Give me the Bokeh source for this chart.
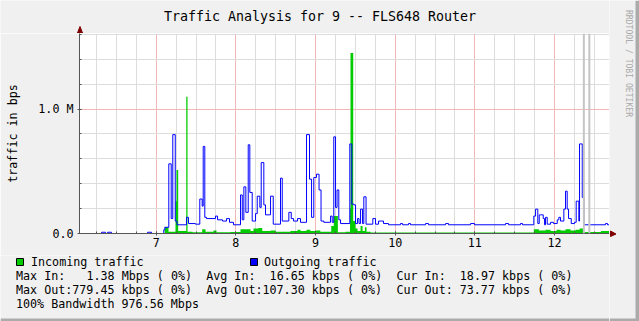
import math
import re
from bokeh.plotting import figure
from bokeh.models import Range1d, SingleIntervalTicker, Span
from bokeh.core.properties import value
from bokeh.layouts import row, column
from bokeh.embed import file_html
from bokeh.resources import INLINE

# ---------------- data (time in hours, traffic in Mbit/s) ----------------
out_t = [6.037, 6.313, 6.364, 6.389, 6.439, 6.891, 6.941, 7.095, 7.108, 7.158,
         7.188, 7.208, 7.239, 7.261, 7.380, 7.405, 7.493, 7.547, 7.577, 7.590,
         7.610, 7.631, 7.744, 7.770, 7.832, 7.883, 7.920, 7.970, 8.058, 8.080,
         8.100, 8.125, 8.155, 8.175, 8.205, 8.247, 8.268, 8.301, 8.318, 8.351,
         8.372, 8.435, 8.469, 8.560, 8.582, 8.665, 8.695, 8.724, 8.774, 8.811,
         8.887, 8.924, 8.950, 8.978, 9.012, 9.044, 9.069, 9.104, 9.188, 9.209,
         9.229, 9.251, 9.270, 9.292, 9.314, 9.430, 9.455, 9.481, 9.502, 9.527,
         9.546, 9.565, 9.590, 9.606, 9.634, 9.719, 9.753, 9.791, 9.853, 9.916,
         10.067, 10.092, 10.167, 10.192, 10.381, 10.418, 10.632, 10.669, 10.946, 10.996,
         11.385, 11.423, 11.573, 11.598, 11.740, 11.762, 11.790, 11.808, 11.824, 11.858,
         11.875, 11.887, 11.908, 11.950, 11.987, 12.034, 12.054, 12.075, 12.117, 12.138,
         12.159, 12.176, 12.210, 12.251, 12.272, 12.305, 12.314, 12.348, 12.368, 12.452,
         12.640, 12.665, 12.690]
out_v = [0.0, 0.01, 0.0, 0.01, 0.0, 0.01, 0.0, 0.03, 0.05, 0.56,
         0.12, 0.795, 0.10, 0.07, 0.13, 0.08, 0.075, 0.277, 0.22, 0.70,
         0.13, 0.12, 0.14, 0.11, 0.10, 0.12, 0.09, 0.07, 0.31, 0.11,
         0.375, 0.17, 0.713, 0.33, 0.10, 0.16, 0.30, 0.21, 0.57, 0.23,
         0.15, 0.30, 0.075, 0.445, 0.10, 0.17, 0.12, 0.10, 0.12, 0.09,
         0.795, 0.437, 0.13, 0.45, 0.477, 0.35, 0.10, 0.09, 0.14, 0.09,
         0.777, 0.21, 0.35, 0.11, 0.08, 0.72, 0.236, 0.23, 0.08, 0.12,
         0.08, 0.196, 0.08, 0.295, 0.075, 0.12, 0.075, 0.10, 0.08, 0.07,
         0.08, 0.07, 0.08, 0.07, 0.08, 0.07, 0.08, 0.07, 0.08, 0.07,
         0.08, 0.07, 0.08, 0.07, 0.14, 0.196, 0.08, 0.15, 0.15, 0.12,
         0.07, 0.13, 0.075, 0.09, 0.08, 0.11, 0.13, 0.10, 0.196, 0.34,
         0.196, 0.12, 0.08, 0.09, 0.26, 0.10, 0.72, 0.29, 0.07, 0.07,
         0.08, 0.07, 0.07]

in_t = [6.037, 7.107, 7.154, 7.242, 7.255, 7.276, 7.377, 7.393, 7.456, 7.577,
        7.619, 7.719, 7.757, 7.933, 8.058, 8.184, 8.221, 8.284, 8.331, 8.435,
        8.498, 8.686, 8.774, 8.811, 8.887, 8.935, 8.997, 9.060, 9.197, 9.229,
        9.280, 9.376, 9.433, 9.439, 9.473, 9.502, 9.527, 9.565, 9.590, 9.619,
        9.640, 9.690, 11.740, 11.803, 11.887, 11.950, 12.025, 12.075, 12.138, 12.201,
        12.264, 12.314, 12.357, 12.583, 12.690]
in_v = [0.0, 0.05, 0.015, 0.26, 0.51, 0.02, 1.10, 0.015, 0.01, 0.035,
        0.015, 0.025, 0.01, 0.012, 0.035, 0.02, 0.04, 0.045, 0.02, 0.025,
        0.015, 0.02, 0.03, 0.02, 0.03, 0.02, 0.025, 0.015, 0.06, 0.14,
        0.01, 0.015, 0.2, 1.45, 0.1, 0.04, 0.02, 0.06, 0.02, 0.05,
        0.015, 0.008, 0.035, 0.025, 0.03, 0.02, 0.03, 0.025, 0.035, 0.025,
        0.03, 0.04, 0.012, 0.02, 0.02]

vrule_times = [12.368, 12.437]
y_tick_labels = {0: "0.0", 1: "1.0 M"}

title_text = "Traffic Analysis for 9 -- FLS648 Router"
y_label_text = "traffic in bps"
watermark_text = "RRDTOOL / TOBI OETIKER"
legend_names = ["Incoming traffic", "Outgoing traffic"]
stat_lines = [
    "Max In:   1.38 Mbps ( 0%)  Avg In:  16.65 kbps ( 0%)  Cur In:  18.97 kbps ( 0%)",
    "Max Out:779.45 kbps ( 0%)  Avg Out:107.30 kbps ( 0%)  Cur Out: 73.77 kbps ( 0%)",
    "100% Bandwidth 976.56 Mbps",
]

IN_COLOR = "#00CC00"
OUT_COLOR = "#0000FF"
BACK = "#F0F0F0"
SHADE = "#ABABAB"
AXIS = "#555555"
ARROW = "#7F0000"
FONT = "DejaVu Sans Mono"
CHAR_W = 7.045          # advance of one monospace character at 11.7px

# ---------------- layout (pixels of the 639x321 image) ----------------
W, H = 639, 321
FL, FR, FT, FB = 79, 609, 33, 233      # plot area
MB = 255                                # bottom of the main figure
X0, X1 = 6.037, 12.690
Y0, Y1 = 0.0, 1.6077


def pixel_fig(x0, x1, y0, y1):
    """Figure whose frame fills it entirely; data units = image pixels."""
    f = figure(width=x1 - x0, height=y1 - y0, output_backend="svg", toolbar_location=None,
               x_range=Range1d(x0, x1), y_range=Range1d(y1, y0),
               x_axis_location=None, y_axis_location=None,
               min_border=0, min_border_left=0, min_border_right=0,
               min_border_top=0, min_border_bottom=0, frame_align=False)
    f.grid.visible = False
    f.outline_line_color = None
    f.background_fill_color = BACK
    f.border_fill_color = BACK
    return f


# ---- main chart ----
p = figure(width=FR, height=MB - FT, output_backend="svg", toolbar_location=None,
           x_range=Range1d(X0, X1), y_range=Range1d(Y0, Y1),
           min_border_left=FL, min_border_right=0, min_border_top=0,
           min_border_bottom=MB - FB, frame_align=False)
p.border_fill_color = BACK
p.background_fill_color = "#FFFFFF"
p.outline_line_color = None

p.xaxis.ticker = SingleIntervalTicker(interval=1, num_minor_ticks=4)
p.yaxis.ticker = SingleIntervalTicker(interval=1, num_minor_ticks=5)
p.yaxis.major_label_overrides = y_tick_labels
for ax in (p.xaxis[0], p.yaxis[0]):
    ax.axis_line_color = AXIS
    ax.major_tick_line_color = AXIS
    ax.minor_tick_line_color = AXIS
    ax.major_tick_in = 2
    ax.major_tick_out = 2
    ax.minor_tick_in = 2
    ax.minor_tick_out = 0
    ax.major_label_text_font = FONT
    ax.major_label_text_font_size = "11.7px"
    ax.major_label_text_color = "#000000"
p.xaxis.major_label_standoff = 2
p.yaxis.major_label_standoff = 4
p.yaxis.axis_label = y_label_text
p.yaxis.axis_label_text_font = FONT
p.yaxis.axis_label_text_font_size = "11.7px"
p.yaxis.axis_label_text_font_style = "normal"
p.yaxis.axis_label_text_color = "#000000"
p.yaxis.axis_label_standoff = 15

p.xgrid.grid_line_color = "#F2B6B6"
p.ygrid.grid_line_color = "#F2B6B6"
p.xgrid.minor_grid_line_color = "#DDDDDD"
p.ygrid.minor_grid_line_color = "#DDDDDD"

for t in vrule_times:
    p.add_layout(Span(location=t, dimension="height", line_color="#C4C4C4", line_width=2))

p.varea_step(x=in_t, y1=[0] * len(in_v), y2=in_v, step_mode="after", fill_color=IN_COLOR)
p.step(x=out_t, y=out_v, mode="after", line_color=OUT_COLOR, line_width=1)

# ---- top strip: title and y-axis arrow ----
top = pixel_fig(0, FR, 0, FT)
top.text(x=[319.5], y=[16], text=[title_text], text_font=value(FONT),
         text_font_size="13.3px", text_align="center", text_baseline="middle",
         text_color="#000000")
top.segment(x0=[FL + 0.5], y0=[FT], x1=[FL + 0.5], y1=[28], line_color=AXIS, line_width=1)
top.patch(x=[FL - 2, FL + 3, FL + 0.5], y=[32.5, 32.5, 26], fill_color=ARROW, line_color=ARROW)

# ---- bottom strip: legend and statistics ----
bot = pixel_fig(0, FR, MB, H)
bot.quad(left=[16, 250], right=[23, 257], top=[258, 258], bottom=[265, 265],
         fill_color=[IN_COLOR, OUT_COLOR], line_color="#000000", line_width=1)
bot.text(x=[30.5, 263.5], y=[261.5, 261.5], text=legend_names, text_font=value(FONT),
         text_font_size="11.7px", text_align="left", text_baseline="middle",
         text_color="#000000")
# each run of text between multi-space gaps is placed on the monospace grid
seg_x, seg_y, seg_text = [], [], []
for i, line in enumerate(stat_lines):
    for m in re.finditer(r"\S+(?: \S+)*", line):
        seg_x.append(15.5 + m.start() * CHAR_W)
        seg_y.append(275 + 14 * i)
        seg_text.append(m.group(0))
bot.text(x=seg_x, y=seg_y, text=seg_text, text_font=value(FONT), text_font_size="11.7px",
         text_align="left", text_baseline="middle", text_color="#000000")
bot.quad(left=[0], right=[FR], top=[H - 3], bottom=[H], fill_color=SHADE, line_alpha=0)

# ---- right strip: x-axis arrow, watermark, frame shade ----
rgt = pixel_fig(FR, W, 0, H)
rgt.segment(x0=[FR], y0=[FB + 0.5], x1=[612], y1=[FB + 0.5], line_color=AXIS, line_width=1)
rgt.patch(x=[610, 610, 615.5], y=[230.5, 236, FB + 0.5], fill_color=ARROW, line_color=ARROW)
rgt.text(x=[628], y=[63], text=[watermark_text], text_font=value(FONT),
         text_font_size="8.1px", text_align="center", text_baseline="middle",
         angle=-math.pi / 2, text_color="#AAAAAA")
rgt.quad(left=[W - 4], right=[W], top=[0], bottom=[H], fill_color=SHADE, line_alpha=0)
rgt.quad(left=[FR], right=[W], top=[H - 3], bottom=[H], fill_color=SHADE, line_alpha=0)

layout = row(column(top, p, bot), rgt)
open("out.html", "w").write(file_html(layout, INLINE))
